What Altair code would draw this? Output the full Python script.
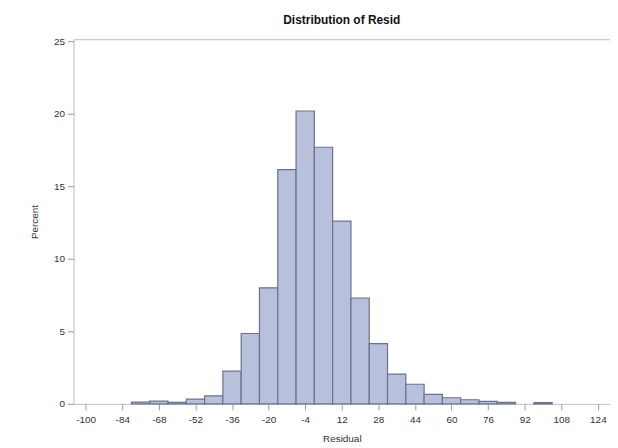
import altair as alt
import pandas as pd

bin_mid = [-76, -68, -60, -52, -44, -36, -28, -20, -12, -4, 4, 12, 20, 28, 36, 44, 52, 60, 68, 76, 84, 100]
percent = [0.12, 0.18, 0.10, 0.33, 0.55, 2.25, 4.85, 8.0, 16.15, 20.2, 17.7, 12.6, 7.3, 4.15, 2.05, 1.35, 0.65, 0.42, 0.28, 0.17, 0.10, 0.08]
x_ticks = [-100, -84, -68, -52, -36, -20, -4, 12, 28, 44, 60, 76, 92, 108, 124]
y_ticks = [0, 5, 10, 15, 20, 25]
bin_width = 8

df = pd.DataFrame({"mid": bin_mid, "pct": percent})
df["lo"] = df["mid"] - bin_width / 2
df["hi"] = df["mid"] + bin_width / 2

FONT = "Liberation Sans"

chart = alt.Chart(df).mark_bar(
    fill="#b8c0dc", stroke="#6a7290", strokeWidth=1.2
).encode(
    x=alt.X("lo:Q", scale=alt.Scale(domain=[-105.3, 129.3], nice=False, zero=False),
            axis=alt.Axis(values=x_ticks, title="Residual", grid=False, domain=False,
                          tickSize=6, tickColor="#999999", labelPadding=5,
                          titlePadding=9, labelExpr="toString(datum.value)")),
    x2="hi:Q",
    y=alt.Y("pct:Q", scale=alt.Scale(domain=[0, 25.15], nice=False),
            axis=alt.Axis(values=y_ticks, title="Percent", grid=False, domain=False,
                          tickSize=6, tickColor="#999999", labelPadding=3,
                          titlePadding=14)),
    y2=alt.datum(0),
).properties(
    width=540, height=367,
    title=alt.TitleParams("Distribution of Resid", fontSize=12, fontWeight="bold",
                          font=FONT, color="#111111", offset=10, anchor="middle"),
    autosize="none",
    padding={"left": 66, "top": 30, "right": 0, "bottom": 40},
).configure_view(
    stroke="#bdbdbd", strokeWidth=1
).configure_axis(
    labelFont=FONT, titleFont=FONT, labelFontSize=10, titleFontSize=10,
    labelColor="#333333", titleColor="#333333", titleFontWeight="normal"
)

chart.save("out.html", embed_options={"renderer": "svg", "actions": False})
